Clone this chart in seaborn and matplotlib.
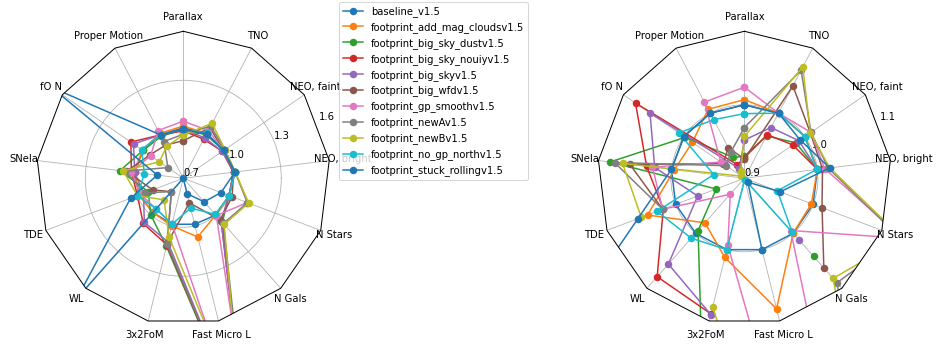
import numpy as np
import pandas as pd
import matplotlib
matplotlib.use("Agg")
import matplotlib.pyplot as plt
import matplotlib.patches as mpatches
from matplotlib.lines import Line2D
import seaborn as sns

metrics = ["Parallax", "Proper Motion", "fO N", "SNela", "TDE", "WL", "3x2FoM",
           "Fast Micro L", "N Gals", "N Stars", "NEO, bright", "NEO, faint", "TNO"]

runs = ["baseline_v1.5", "footprint_add_mag_cloudsv1.5", "footprint_big_sky_dustv1.5",
        "footprint_big_sky_nouiyv1.5", "footprint_big_skyv1.5", "footprint_big_wfdv1.5",
        "footprint_gp_smoothv1.5", "footprint_newAv1.5", "footprint_newBv1.5",
        "footprint_no_gp_northv1.5", "footprint_stuck_rollingv1.5"]

# ---- left panel values (order of metrics) ----
left_baseline = [1.01, 1.00, 1.00, 1.00, 0.99, 0.98, 0.99, 0.99, 1.00, 1.00, 1.02, 1.00, 1.01]
left_add_mag  = [1.02, 1.01, 1.00, 1.00, 0.99, 0.98, 1.00, 1.07, 1.00, 1.00, 1.02, 1.00, 1.01]
left_sky_dust = [1.00, 0.99, 1.00, 1.09, 0.93, 1.00, 1.13, 2.30, 1.06, 1.00, 1.01, 1.00, 1.00]
left_sky_nouiy= [0.99, 1.00, 1.09, 1.02, 1.00, 1.07, 1.12, 2.30, 1.05, 1.00, 1.01, 0.99, 0.97]
left_big_sky  = [1.00, 1.00, 1.07, 1.00, 0.96, 1.06, 1.10, 2.30, 1.05, 1.00, 1.01, 0.99, 0.98]
left_big_wfd  = [0.93, 0.93, 0.95, 1.05, 0.90, 0.81, 1.11, 0.855, 1.04, 1.02, 1.01, 1.00, 1.05]
left_gp_smooth= [1.05, 1.03, 0.943, 1.02, 0.98, 0.95, 0.988, 2.50, 1.005, 1.12, 1.02, 1.00, 1.03]
left_newA     = [0.97, 0.954, 0.815, 1.06, 0.95, 0.81, 1.114, 2.30, 1.07, 1.12, 1.02, 1.01, 1.06]
left_newB     = [0.965, 0.92, 0.878, 1.07, 1.00, 0.877, 1.068, 2.15, 1.078, 1.128, 1.02, 1.01, 1.08]
left_no_gp_n  = [1.00, 1.00, 1.01, 0.94, 1.00, 0.95, 0.99, 0.888, 0.995, 1.00, 1.02, 1.00, 1.01]
left_stuck    = [1.00, 1.00, 1.68, 0.86, 1.045, 1.68, 0.70, 0.797, 0.893, 0.947, 1.019, 1.00, 1.007]

# ---- right panel values (values below 0.9 fall inside the inner limit) ----
right_baseline = [1.0, 1.0, 1.0, 1.0, 1.0, 1.0, 1.0, 1.0, 1.0, 1.0, 1.0, 1.0, 1.0]
right_add_mag  = [1.007, 1.006, 0.986, 0.996, 1.041, 0.981, 1.011, 1.083, 1.000, 0.9975, 1.0, 1.0, 1.0]
right_sky_dust = [0.93, 0.932, 0.998, 1.084, 0.941, 0.995, 1.143, 0.85, 1.042, 0.85, 1.0, 0.985, 0.965]
right_sky_nouiy= [0.928, 0.921, 1.08, 1.034, 1.018, 1.079, 1.09, 0.85, 0.85, 0.85, 1.0, 0.98, 0.967]
right_big_sky  = [0.952, 0.915, 1.056, 1.023, 0.968, 1.056, 1.091, 0.85, 1.013, 0.85, 1.0, 0.99, 0.978]
right_big_wfd  = [0.926, 0.947, 0.935, 1.057, 1.019, 0.85, 0.85, 0.85, 1.063, 1.013, 1.007, 1.009, 1.042]
right_gp_smooth= [1.024, 1.017, 0.939, 1.026, 1.019, 0.929, 0.994, 2.2, 0.995, 1.13, 1.01, 1.01, 1.0]
right_newA     = [0.969, 0.94, 0.93, 1.078, 1.019, 0.85, 0.85, 2.4, 1.09, 1.125, 1.015, 1.01, 1.066]
right_newB     = [0.957, 0.911, 0.905, 1.067, 1.05, 0.85, 1.08, 2.5, 1.082, 1.13, 1.017, 1.009, 1.071]
right_no_gp_n  = [0.988, 0.99, 1.0085, 0.942, 1.027, 1.009, 1.0, 0.902, 0.998, 0.948, 0.999, 1.0, 1.0]
right_stuck    = [1.0, 1.0, 1.0, 1.0, 1.055, 1.6, 0.85, 1.0, 0.907, 0.952, 1.017, 0.992, 1.0]

left_rows = [left_baseline, left_add_mag, left_sky_dust, left_sky_nouiy, left_big_sky,
             left_big_wfd, left_gp_smooth, left_newA, left_newB, left_no_gp_n, left_stuck]
right_rows = [right_baseline, right_add_mag, right_sky_dust, right_sky_nouiy, right_big_sky,
              right_big_wfd, right_gp_smooth, right_newA, right_newB, right_no_gp_n, right_stuck]

left_rgrids = [0.7, 1.0, 1.3, 1.6]
right_rgrids = [0.9, 1.0, 1.1]

tab = sns.color_palette("tab10", 10)
colors = list(tab) + [tab[0]]
palette = dict(zip(runs, colors))

n = len(metrics)
theta = (np.linspace(0, 2 * np.pi, n, endpoint=False) + np.pi / 2) % (2 * np.pi)


def radar(ax, rows, rgrids):
    rmin, rmax = rgrids[0], rgrids[-1]
    recs = []
    for run, vals in zip(runs, rows):
        th = np.append(theta, theta[0] + 2 * np.pi)
        vv = list(vals) + [vals[0]]
        for t, v in zip(th, vv):
            recs.append({"theta": t, "value": v, "run": run})
    df = pd.DataFrame(recs)
    sns.lineplot(data=df, x="theta", y="value", hue="run", hue_order=runs,
                 palette=palette, sort=False, estimator=None, marker="o",
                 markersize=7.5, markeredgewidth=0, linewidth=1.5, legend=False, ax=ax)
    ax.set_ylim(rmin, rmax)
    ax.set_rgrids(rgrids)
    ax.set_rlabel_position(22.5)
    ax.set_thetagrids(np.degrees(theta), metrics)
    ax.set_xlabel("")
    ax.set_ylabel("")
    ax.spines["polar"].set_visible(False)
    ax.grid(True, color="#b0b0b0", linewidth=0.8)
    clip = mpatches.Polygon(np.column_stack([theta, np.full(n, rmax)]), closed=True,
                            transform=ax.transData, facecolor="none", edgecolor="none")
    for ln in ax.lines:
        ln.set_clip_path(clip)
    for gl in ax.xaxis.get_gridlines() + ax.yaxis.get_gridlines():
        gl.set_clip_path(clip)
    ax.plot(np.append(theta, theta[0]), np.full(n + 1, rmax), color="black",
            linewidth=1.0, clip_on=False, zorder=3)
    ax.tick_params(labelsize=10)


fig = plt.figure(figsize=(938 / 72, 349 / 72), dpi=72)
axL = fig.add_axes([0.0387, 0.068, 0.3134, 0.8424], projection="polar")
axR = fig.add_axes([0.6369, 0.068, 0.3134, 0.8424], projection="polar")
radar(axL, left_rows, left_rgrids)
radar(axR, right_rows, right_rgrids)

handles = [Line2D([], [], color=palette[r], marker="o", markersize=7.5,
                  markeredgewidth=0, linewidth=1.5) for r in runs]
fig.legend(handles, runs, loc="upper left", bbox_to_anchor=(339 / 938, 1 - 2 / 349),
           fontsize=10, borderaxespad=0)

fig.savefig("out.png", dpi=72)
